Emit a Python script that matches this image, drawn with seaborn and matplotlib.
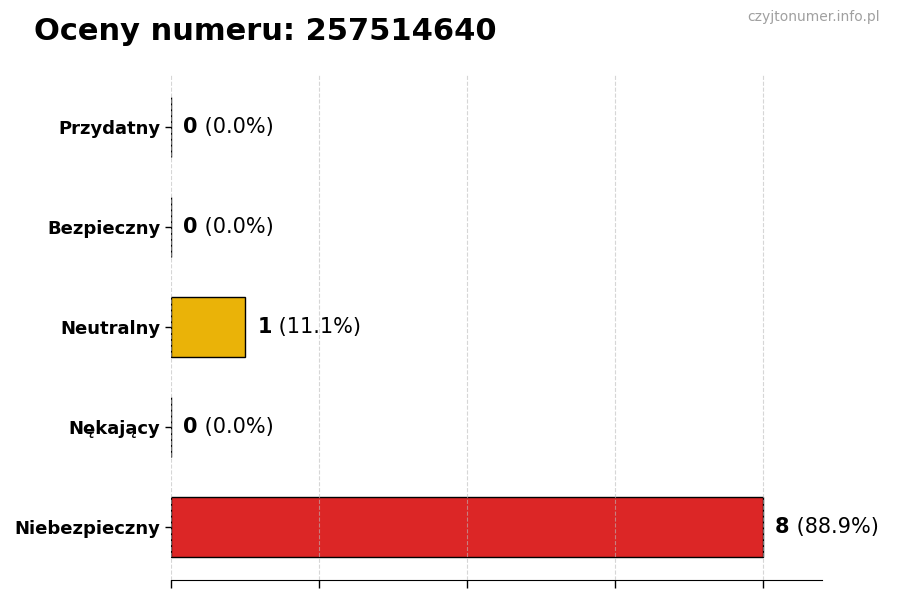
import pandas as pd
import matplotlib
matplotlib.use("Agg")
import matplotlib.pyplot as plt
import seaborn as sns

# Data
categories = ["Przydatny", "Bezpieczny", "Neutralny", "Nękający", "Niebezpieczny"]
counts = [0, 0, 1, 0, 8]
colors = ["#22c55e", "#3b82f6", "#eab308", "#f97316", "#dc2626"]
number = "257514640"

total = sum(counts)
df = pd.DataFrame({"kategoria": categories, "liczba": counts})

sns.set_style("white")
plt.rcParams["font.family"] = ["DejaVu Sans"]
plt.rcParams["text.color"] = "black"
plt.rcParams["xtick.bottom"] = True
plt.rcParams["ytick.left"] = True

fig = plt.figure(figsize=(9, 6), dpi=100)
ax = fig.add_axes([0.19, 0.033, 0.723, 0.842])

sns.barplot(data=df, x="liczba", y="kategoria", hue="kategoria", palette=colors,
            orient="h", width=0.6, edgecolor="black", linewidth=1, saturation=1,
            legend=False, ax=ax)

ax.set_xlim(0, 8.8)
ax.set_ylim(4.53, -0.52)
ax.set_xticks([0, 2, 4, 6, 8])
ax.set_xticklabels([])
ax.tick_params(axis="x", bottom=True, length=6, width=1, color="black")
ax.tick_params(axis="y", left=True, length=4, width=1, color="black",
               labelsize=13, labelcolor="black")
for lbl in ax.get_yticklabels():
    lbl.set_fontweight("bold")
ax.set_axisbelow(False)
ax.grid(axis="x", linestyle="--", color="#bbbbbb", linewidth=0.8, alpha=0.6)
for side in ["top", "right", "left"]:
    ax.spines[side].set_visible(False)
ax.spines["bottom"].set_color("black")
ax.set_xlabel("")
ax.set_ylabel("")

# Value labels: bold count and normal percentage
for i, c in enumerate(counts):
    pct = 100 * c / total
    t = ax.annotate(str(c), xy=(c, i), xytext=(9, 0), textcoords="offset points",
                    va="center", ha="left", fontsize=15, fontweight="bold",
                    color="black")
    ax.annotate(f" ({pct:.1f}%)", xy=(1, 0.5), xycoords=t, va="center", ha="left",
                fontsize=15, color="black")

fig.text(0.038, 0.948, f"Oceny numeru: {number}", fontsize=22, fontweight="bold",
         ha="left", va="center", color="black")
fig.text(0.978, 0.972, "czyjtonumer.info.pl", fontsize=10, color="#a0a0a0",
         ha="right", va="center")

fig.savefig("out.png", dpi=100)
